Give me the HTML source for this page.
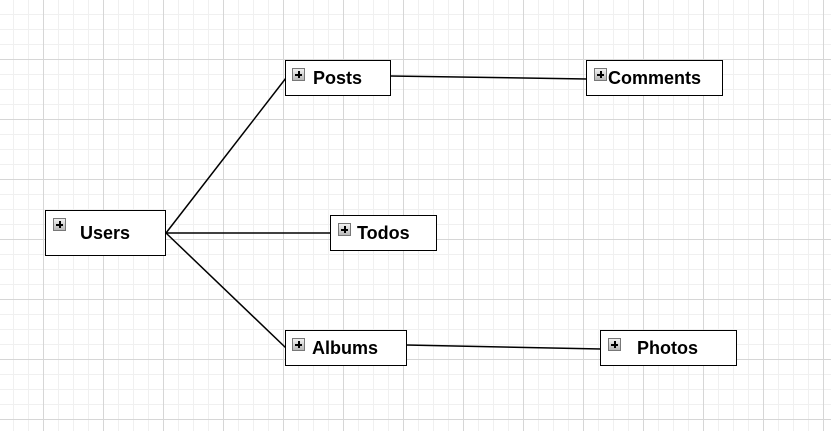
<!DOCTYPE html>
<html><head><style>
html,body{margin:0;padding:0;}
body{width:831px;height:431px;overflow:hidden;position:relative;background:#fff;
background-image:
linear-gradient(to right,#d6d6d6 1px,transparent 1px),
linear-gradient(to bottom,#d6d6d6 1px,transparent 1px),
linear-gradient(to right,#f0f0f0 1px,transparent 1px),
linear-gradient(to bottom,#f0f0f0 1px,transparent 1px);
background-size:60px 60px,60px 60px,15px 15px,15px 15px;
background-position:43px 0,0 59px,13px 0,0 14px;}
.b{position:absolute;box-sizing:border-box;border:1.5px solid #000;background:#fff;
font:bold 18px "Liberation Sans",sans-serif;color:#000;}
.b span{position:absolute;}
.i{position:absolute;width:13px;height:13px;box-sizing:border-box;border:1px solid #777;
background:linear-gradient(#f2f2f2,#b8b8b8);}
.i:before{content:"";position:absolute;left:2px;top:5px;width:7px;height:1.5px;background:#000;}
.i:after{content:"";position:absolute;left:5px;top:2px;width:1.5px;height:7px;background:#000;}
svg{position:absolute;left:0;top:0;}
</style></head><body>
<svg width="831" height="431"><g stroke="#000" stroke-width="1.5" fill="none">
<line x1="166" y1="233" x2="286" y2="78"/>
<line x1="166" y1="233" x2="331" y2="233"/>
<line x1="166" y1="233" x2="286" y2="348"/>
<line x1="390" y1="76" x2="587" y2="79"/>
<line x1="406" y1="345" x2="601" y2="349"/>
</g></svg>
<div class="b" style="left:45px;top:210px;width:121px;height:46px"><div class="i" style="left:7px;top:7px"></div><span style="left:34px;top:12px">Users</span></div>
<div class="b" style="left:285px;top:60px;width:106px;height:36px"><div class="i" style="left:6px;top:7px"></div><span style="left:27px;top:7px">Posts</span></div>
<div class="b" style="left:586px;top:60px;width:137px;height:36px"><div class="i" style="left:7px;top:7px"></div><span style="left:21px;top:7px">Comments</span></div>
<div class="b" style="left:330px;top:215px;width:107px;height:36px"><div class="i" style="left:7px;top:7px"></div><span style="left:26px;top:7px">Todos</span></div>
<div class="b" style="left:285px;top:330px;width:122px;height:36px"><div class="i" style="left:6px;top:7px"></div><span style="left:26px;top:7px">Albums</span></div>
<div class="b" style="left:600px;top:330px;width:137px;height:36px"><div class="i" style="left:7px;top:7px"></div><span style="left:36px;top:7px">Photos</span></div>
</body></html>
